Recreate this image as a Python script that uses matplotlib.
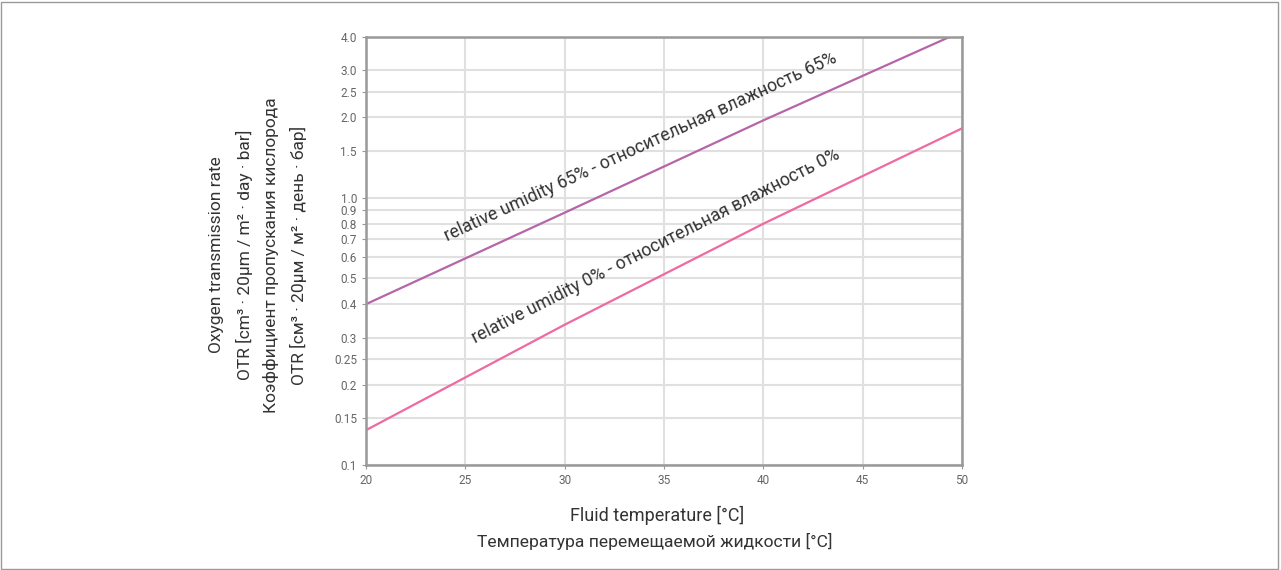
import matplotlib
matplotlib.use('Agg')
import matplotlib.pyplot as plt
from matplotlib.patches import Rectangle
from matplotlib.ticker import FixedLocator, FixedFormatter, NullLocator

# Data
temps = [20, 30, 40, 50]
otr_rh65 = [0.40, 0.88, 1.95, 4.2]
otr_rh0 = [0.135, 0.335, 0.80, 1.82]

x_ticks = [20, 25, 30, 35, 40, 45, 50]
y_ticks = [0.1, 0.15, 0.2, 0.25, 0.3, 0.4, 0.5, 0.6, 0.7, 0.8, 0.9, 1.0, 1.5, 2.0, 2.5, 3.0, 4.0]
y_tick_labels = ['0.1', '0.15', '0.2', '0.25', '0.3', '0.4', '0.5', '0.6', '0.7', '0.8', '0.9',
                 '1.0', '1.5', '2.0', '2.5', '3.0', '4.0']

plt.rcParams['font.family'] = ['Roboto', 'DejaVu Sans']

fig = plt.figure(figsize=(12.81, 5.70), dpi=100)
ax = fig.add_axes([0.2857, 0.1842, 0.4653, 0.7509])

ax.plot(temps, otr_rh65, color='#b565a8', linewidth=1.6)
ax.plot(temps, otr_rh0, color='#ee6aa0', linewidth=1.6)

ax.set_yscale('log')
ax.set_xlim(20, 50)
ax.set_ylim(0.1, 4.0)
ax.yaxis.set_major_locator(FixedLocator(y_ticks))
ax.yaxis.set_major_formatter(FixedFormatter(y_tick_labels))
ax.yaxis.set_minor_locator(NullLocator())
ax.set_xticks(x_ticks)
ax.set_xticklabels([str(t) for t in x_ticks])

ax.grid(True, color='#e0e0e0', linewidth=1.5)
ax.set_axisbelow(True)
for side in ['left', 'bottom', 'top', 'right']:
    ax.spines[side].set_color('#999999')
    ax.spines[side].set_linewidth(1.8)
ax.tick_params(axis='both', colors='#999999', labelcolor='#666666', labelsize=8.5, length=3)

# line labels
ax.text(33.84, 1.55, 'relative umidity 65% - относительная влажность 65%',
        rotation=24.7, ha='center', va='center', fontsize=12.8, color='#333333')
ax.text(34.6, 0.661, 'relative umidity 0% - относительная влажность 0%',
        rotation=26.9, ha='center', va='center', fontsize=12.8, color='#333333')

# axis titles
ylab = ['Oxygen transmission rate',
        'OTR [cm³ · 20µm / m² · day · bar]',
        'Коэффициент пропускания кислорода',
        'OTR [см³ · 20µм / м² · день · бар]']
for i, s in enumerate(ylab):
    fig.text((217 + i * 27) / 1281, 1 - 255 / 570, s, rotation=90,
             ha='center', va='center', fontsize=12.5, color='#333333')

fig.text(657 / 1281, 1 - 515 / 570, 'Fluid temperature [°C]', ha='center', va='center',
         fontsize=13, color='#333333')
fig.text(655 / 1281, 1 - 541 / 570, 'Температура перемещаемой жидкости [°C]', ha='center',
         va='center', fontsize=12.6, color='#333333')

# outer frame
fig.add_artist(Rectangle((0.001, 0.002), 0.997, 0.995, transform=fig.transFigure,
                         fill=False, edgecolor='#9a9a9a', linewidth=1))

fig.savefig('out.png', dpi=100)
